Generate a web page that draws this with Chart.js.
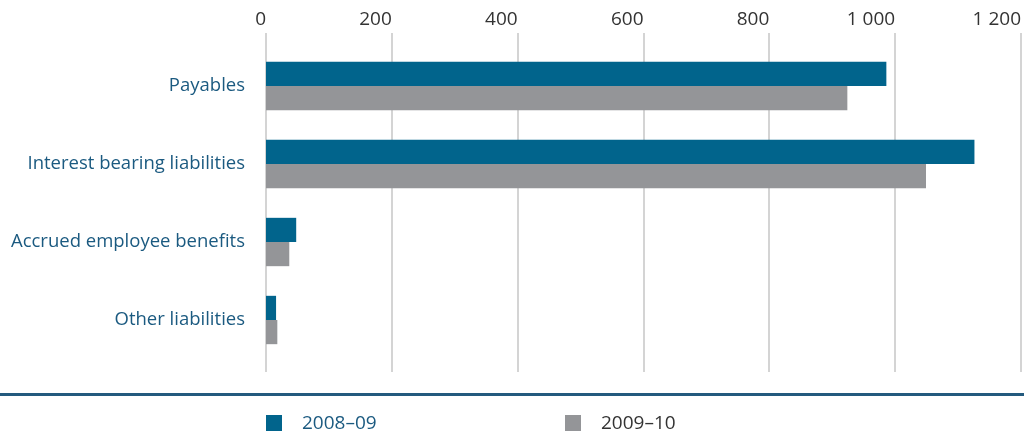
<!DOCTYPE html>
<html>
<head>
<meta charset="utf-8">
<script src="https://cdn.jsdelivr.net/npm/chart.js@4"></script>
<style>
  html, body { margin: 0; padding: 0; background: #fff; }
  #wrap { position: relative; width: 1024px; height: 436px; }
</style>
</head>
<body>
<div id="wrap"><canvas id="liabChart" width="1024" height="436"></canvas></div>
<script>
// data
const categories = ['Payables', 'Interest bearing liabilities', 'Accrued employee benefits', 'Other liabilities'];
const values0809 = [986, 1126, 48, 16];
const values0910 = [924, 1049, 37, 18];
const seriesNames = ['2008\u201309', '2009\u201310'];

const BLUE = '#01648c';
const GREY = '#949598';
const LABEL_BLUE = '#1b5a80';
const FONT = "'Open Sans', sans-serif";

// vertical grid lines drawn a bit past the plot area, like in the original
const gridPlugin = {
    id: 'gridLines',
    beforeDatasetsDraw(chart) {
        const ctx = chart.ctx;
        const x = chart.scales.x;
        ctx.save();
        ctx.strokeStyle = '#d4d4d4';
        ctx.lineWidth = 2;
        x.ticks.forEach(function (t) {
            const px = Math.round(x.getPixelForValue(t.value));
            ctx.beginPath();
            ctx.moveTo(px, chart.chartArea.top - 14);
            ctx.lineTo(px, chart.chartArea.bottom + 13);
            ctx.stroke();
        });
        ctx.restore();
    }
};

// rule under the chart + the legend
const footerPlugin = {
    id: 'footer',
    afterDraw(chart) {
        const ctx = chart.ctx;
        ctx.save();
        ctx.fillStyle = '#235a7e';
        ctx.fillRect(0, 393, chart.width, 3);

        const items = [
            { x: 266, color: BLUE, text: seriesNames[0], textColor: LABEL_BLUE },
            { x: 565, color: GREY, text: seriesNames[1], textColor: '#333333' }
        ];
        ctx.font = '19px ' + FONT;
        ctx.textBaseline = 'middle';
        items.forEach(function (it) {
            ctx.fillStyle = it.color;
            ctx.fillRect(it.x, 415, 16, 16);
            ctx.fillStyle = it.textColor;
            ctx.fillText(it.text, it.x + 36, 424);
        });
        ctx.restore();
    }
};

new Chart(document.getElementById('liabChart'), {
    type: 'bar',
    data: {
        labels: categories,
        datasets: [{
            label: seriesNames[0],
            data: values0809,
            backgroundColor: BLUE,
            categoryPercentage: 0.62,
            barPercentage: 1.0
        }, {
            label: seriesNames[1],
            data: values0910,
            backgroundColor: GREY,
            categoryPercentage: 0.62,
            barPercentage: 1.0
        }]
    },
    options: {
        indexAxis: 'y',
        responsive: false,
        animation: false,
        layout: { padding: { top: 0, right: 3, bottom: 77, left: 0 } },
        plugins: {
            legend: { display: false },
            tooltip: { enabled: false }
        },
        scales: {
            x: {
                position: 'top',
                min: 0,
                max: 1200,
                grid: { display: false },
                border: { display: false },
                ticks: {
                    stepSize: 200,
                    align: 'end',
                    padding: 8,
                    color: '#333333',
                    font: { family: FONT, size: 19 },
                    callback: function (v) {
                        return String(v).replace(/\B(?=(\d{3})+(?!\d))/g, ' ');
                    }
                },
                afterFit: function (scale) {
                    scale.height = 47;
                    scale.paddingLeft = 0;
                    scale.paddingRight = 0;
                }
            },
            y: {
                grid: { display: false },
                border: { display: false },
                ticks: {
                    padding: 13,
                    color: LABEL_BLUE,
                    font: { family: FONT, size: 18.5 }
                },
                afterFit: function (scale) { scale.width = 266; }
            }
        }
    },
    plugins: [gridPlugin, footerPlugin]
});
</script>
</body>
</html>
